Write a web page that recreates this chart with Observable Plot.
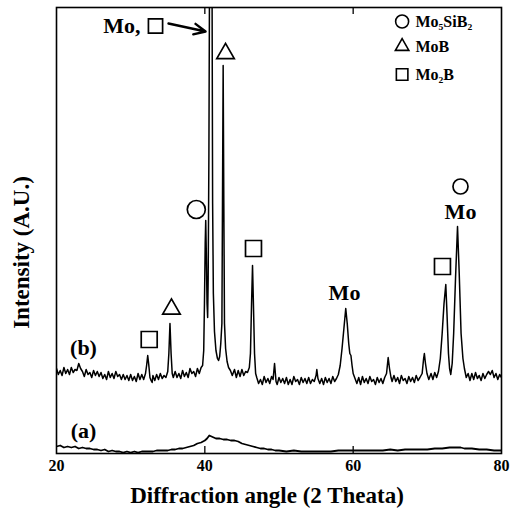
<!DOCTYPE html>
<html><head><meta charset="utf-8">
<script src="https://cdn.jsdelivr.net/npm/d3@7"></script>
<script src="https://cdn.jsdelivr.net/npm/@observablehq/plot@0.6"></script>
<style>body{margin:0;background:#fff} svg{display:block}</style>
</head><body><div id="chart"></div>
<script>
// trace (b): [2 theta, intensity (A.U.)]
const traceB = [
[20.00,85],[20.25,79],[20.50,83],[20.75,78],[21.00,86],[21.25,80],[21.50,84],[21.75,79],[22.00,86],[22.25,81],
[22.50,84],[22.75,83],[23.00,90],[23.25,85],[23.50,82],[23.75,77],[24.00,84],[24.25,79],[24.50,81],[24.75,76],
[25.00,83],[25.25,78],[25.50,82],[25.75,77],[26.00,81],[26.25,75],[26.50,79],[26.75,74],[27.00,82],[27.25,76],
[27.50,80],[27.75,75],[28.00,82],[28.25,77],[28.50,79],[28.75,74],[29.00,79],[29.25,74],[29.50,78],[29.75,73],
[30.00,79],[30.25,73],[30.50,77],[30.75,72],[31.00,80],[31.25,74],[31.50,79],[31.75,74],[32.00,80],[32.15,88],
[32.30,98],[32.45,88],[32.60,76],[32.75,73],[32.90,71],[33.00,78],[33.25,73],[33.50,79],[33.75,74],[34.00,80],
[34.25,75],[34.50,78],[34.75,76],[35.00,82],[35.15,100],[35.30,130],[35.45,100],[35.60,80],[35.75,76],[36.00,82],
[36.25,76],[36.50,80],[36.75,75],[37.00,83],[37.25,77],[37.50,81],[37.75,76],[38.00,85],[38.25,80],[38.50,82],
[38.75,77],[39.00,85],[39.25,80],[39.50,86],[39.70,88],[39.85,103],[39.95,150],[40.05,210],[40.12,233],[40.20,200],
[40.30,150],[40.38,136],[40.45,175],[40.55,300],[40.62,450],[40.80,700],[40.98,450],[41.05,250],[41.15,160],[41.30,122],
[41.50,103],[41.70,95],[41.85,93],[42.00,97],[42.15,110],[42.30,130],[42.38,250],[42.47,388],[42.56,250],[42.65,130],
[42.80,105],[43.00,92],[43.20,86],[43.45,83],[43.70,78],[44.00,84],[44.25,76],[44.50,83],[44.75,77],[45.00,84],
[45.25,78],[45.50,82],[45.75,81],[46.00,86],[46.15,100],[46.30,150],[46.43,188],[46.55,150],[46.70,100],[46.85,80],
[47.00,76],[47.25,70],[47.50,74],[47.75,69],[48.00,77],[48.25,71],[48.50,75],[48.75,70],[49.00,77],[49.20,74],
[49.40,90],[49.60,72],[49.75,69],[50.00,76],[50.25,71],[50.50,75],[50.75,70],[51.00,76],[51.25,69],[51.50,74],
[51.75,69],[52.00,77],[52.25,72],[52.50,74],[52.75,69],[53.00,76],[53.25,71],[53.50,75],[53.75,70],[54.00,76],
[54.25,70],[54.50,74],[54.75,72],[55.00,78],[55.10,84],[55.25,75],[55.50,70],[55.75,75],[56.00,69],[56.25,76],
[56.50,71],[56.75,75],[57.00,70],[57.25,77],[57.50,72],[57.75,75],[58.00,79],[58.25,88],[58.50,105],[58.75,125],
[59.00,145],[59.20,130],[59.40,110],[59.55,100],[59.70,98],[59.85,88],[60.00,80],[60.25,75],[60.50,70],[60.75,76],
[61.00,69],[61.25,77],[61.50,71],[61.75,75],[62.00,70],[62.25,77],[62.50,72],[62.75,74],[63.00,69],[63.25,76],
[63.50,71],[63.75,75],[64.00,70],[64.25,76],[64.50,80],[64.72,96],[64.90,85],[65.10,76],[65.25,72],[65.50,78],
[65.75,72],[66.00,76],[66.25,70],[66.50,78],[66.75,73],[67.00,75],[67.25,70],[67.50,77],[67.75,72],[68.00,76],
[68.25,71],[68.50,78],[68.75,73],[69.00,76],[69.30,80],[69.50,95],[69.60,100],[69.75,90],[69.95,80],[70.20,74],
[70.50,80],[70.75,74],[71.00,81],[71.25,76],[71.50,82],[71.75,95],[72.00,120],[72.25,150],[72.49,169],[72.65,140],
[72.85,100],[73.00,85],[73.16,79],[73.35,90],[73.55,120],[73.80,175],[74.07,227],[74.30,180],[74.55,120],[74.80,95],
[75.00,85],[75.25,76],[75.50,80],[75.75,73],[76.00,80],[76.25,74],[76.50,81],[76.75,75],[77.00,78],[77.25,73],
[77.50,80],[77.75,75],[78.00,79],[78.25,82],[78.50,79],[78.75,83],[79.00,76],[79.25,80],[79.50,74],[79.75,79],[80.00,76]
];
// trace (a)
const traceA = [
[20,7],[20.5,8],[21,6],[21.5,7],[22,6],[22.5,7],[23,5],[23.5,6],[24,5],[24.5,5],[25,4],[25.5,4],[26,3],[26.5,4],
[27,2],[27.5,3],[28,2],[28.5,2],[29,1],[29.5,2],[30,1],[30.5,2],[31,1],[31.5,2],[32,2],[32.5,2],[33,2],[33.5,3],
[34,3],[34.5,3],[35,3],[35.5,4],[36,4],[36.5,5],[37,5],[37.5,6],[38,7],[38.5,8],[39,10],[39.5,11],[40,13],[40.3,15],
[40.6,18],[40.9,17],[41.2,16],[41.5,15],[42,15],[42.5,14],[43,14],[43.5,13],[44,13],[44.5,12],[45,10],[45.5,9],
[46,8],[46.5,7],[47,6],[47.5,5],[48,5],[48.5,4],[49,4],[49.5,3],[50,3],[51,2],[52,3],[53,2],[54,2],[55,2],[56,2],
[57,2],[58,3],[59,3],[60,3],[61,3],[62,3],[63,3],[64,3],[65,4],[66,3],[67,4],[68,4],[69,4],[70,4],[71,5],[72,5],
[73,6],[74,6],[74.5,6],[75,5],[76,5],[77,4],[78,4],[79,3],[80,3]
];
const xTickLabels = [20, 40, 60, 80];
const innerTicks = [40, 60];
const xDomain = [20, 80];
const yDomain = [0, 446];

// phase markers on the peaks
const markerAngle = [38.85, 74.47, 42.79, 35.5, 46.56, 32.5, 72.04, 33.35];
const markerIntensity = [244, 267, 400, 144.5, 205, 114, 187, 427.5];
const markerSymbol = ["circle", "circle", "triangle", "triangle", "square", "square", "square", "square"];
// text annotations
const noteText = ["Mo", "Mo", "Mo,", "(b)", "(a)"];
const noteAngle = [58.83, 74.47, 28.8, 23.64, 23.64];
const noteIntensity = [161, 242, 427.5, 106, 23];
// arrow to the main Mo peak
const arrowFrom = [35.1, 430];
const arrowTo = [40.1, 422];
// legend
const legendSymbols = ["circle", "triangle", "square"];
const legendLabels = ["Mo\u2085SiB\u2082", "MoB", "Mo\u2082B"];
const legendAngle = 66.6;
const legendTextAngle = 68.4;
const legendIntensity = [432, 407, 379];

const font = "'Liberation Serif', 'Times New Roman', serif";
const markers = markerAngle.map((a, i) => ({a, v: markerIntensity[i], s: markerSymbol[i], r: i === 1 ? 7.5 : (markerSymbol[i] === "triangle" ? 6.5 : (i === 7 ? 8 : 9))}));
const notes = noteText.map((t, i) => ({t, a: noteAngle[i], v: noteIntensity[i]}));
const legend = legendLabels.map((t, i) => ({t, s: legendSymbols[i], v: legendIntensity[i], r: legendSymbols[i] === "triangle" ? 5 : 6.5}));
const tickLen = 7 * (yDomain[1] - yDomain[0]) / 446;

const chart = Plot.plot({
  width: 512, height: 511,
  marginLeft: 56, marginRight: 11, marginTop: 7, marginBottom: 58,
  x: {domain: xDomain},
  y: {domain: yDomain},
  r: {type: "identity"},
  symbol: {type: "identity"},
  style: {fontFamily: font, background: "white", color: "black"},
  marks: [
    Plot.line(traceA, {x: d => d[0], y: d => d[1], stroke: "black", strokeWidth: 1.8, clip: true}),
    Plot.line(traceB, {x: d => d[0], y: d => d[1], stroke: "black", strokeWidth: 1.5, clip: true}),
    Plot.ruleX(innerTicks, {x: d => d, y1: yDomain[0], y2: yDomain[0] + tickLen, stroke: "black", strokeWidth: 1.3}),
    Plot.ruleX(innerTicks, {x: d => d, y1: yDomain[1] - tickLen, y2: yDomain[1], stroke: "black", strokeWidth: 1.3}),
    Plot.frame({stroke: "black", strokeWidth: 1.6}),
    Plot.axisX(xTickLabels, {anchor: "bottom", tickSize: 0, tickPadding: 6, fontSize: 16, fontWeight: "bold", label: null}),
    Plot.axisY({ticks: [], label: null, tickSize: 0}),
    Plot.text(["Diffraction angle (2 Theata)"], {frameAnchor: "bottom", dx: -12, dy: 42, fontSize: 23, fontWeight: "bold", lineAnchor: "middle", textAnchor: "middle"}),
    Plot.text(["Intensity (A.U.)"], {frameAnchor: "left", rotate: -90, dx: -35, dy: 22, fontSize: 23, fontWeight: "bold", lineAnchor: "middle", textAnchor: "middle"}),
    Plot.dot(markers, {x: "a", y: "v", symbol: "s", r: "r", fill: "white", stroke: "black", strokeWidth: 1.7}),
    Plot.text(notes, {x: "a", y: "v", text: "t", fontSize: 22, fontWeight: "bold", lineAnchor: "middle"}),
    Plot.arrow([0], {x1: arrowFrom[0], y1: arrowFrom[1], x2: arrowTo[0], y2: arrowTo[1], stroke: "black", strokeWidth: 2.4, headLength: 13, headAngle: 50}),
    Plot.dot(legend, {x: legendAngle, y: "v", symbol: "s", r: "r", fill: "white", stroke: "black", strokeWidth: 1.6}),
    Plot.text(legend, {x: legendTextAngle, y: "v", text: "t", textAnchor: "start", fontSize: 16, fontWeight: "bold", lineAnchor: "middle"})
  ]
});
chart.setAttribute("style", "background:white;font-family:" + font);
document.getElementById("chart").appendChild(chart);
</script>
</body></html>
